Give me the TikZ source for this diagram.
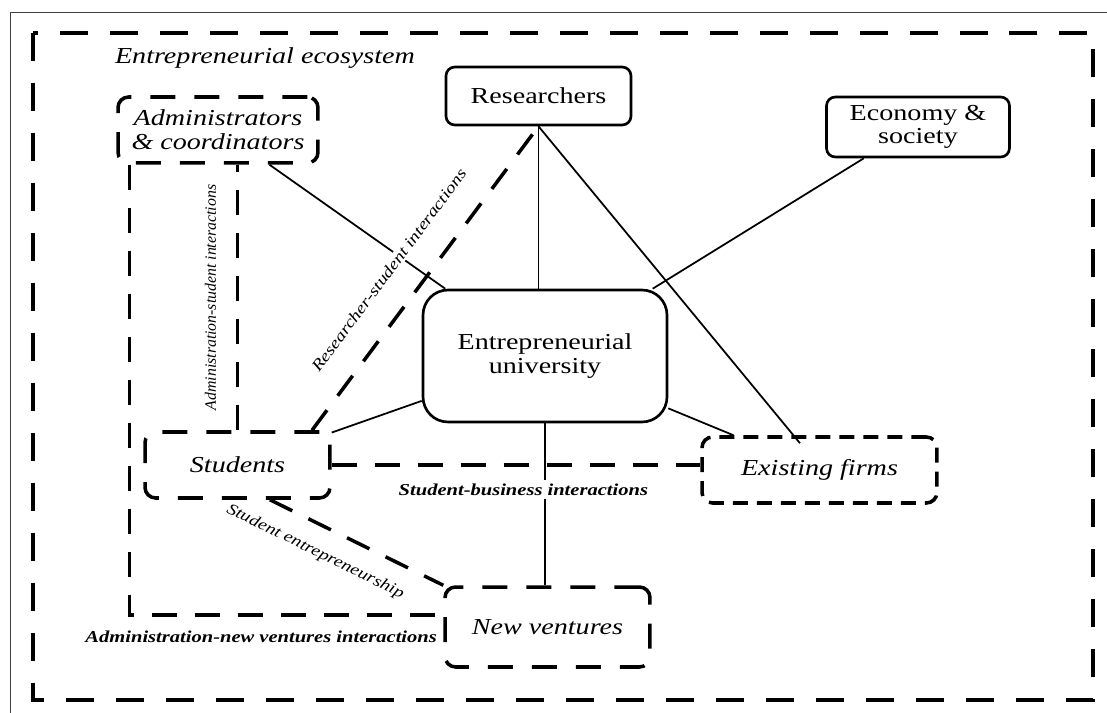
\documentclass[tikz,border=0pt]{standalone}
\usepackage{fontspec}
\setmainfont{Liberation Serif}[FakeStretch=1.23]
\newfontfamily\narrowserif{Liberation Serif}
\usepackage{tikz}

\begin{document}
\begin{tikzpicture}[x=0.02cm,y=-0.02cm,
  font=\fontsize{13}{13.5}\selectfont,
  bx/.style={draw,line width=1.5pt,rounded corners=5pt,align=center,inner sep=0pt},
  dbx/.style={draw,line width=2pt,dash pattern=on 0.5cm off 0.38cm,rounded corners=6pt,align=center,inner sep=0pt,font=\fontsize{13}{13.5}\selectfont\itshape},
  ln/.style={line width=1pt},
  dln/.style={line width=2pt,dash pattern=on 0.5cm off 0.36cm},
  lbl/.style={font=\fontsize{9.5}{10}\selectfont\bfseries\itshape,fill=white,inner sep=2pt},
  slbl/.style={font=\fontsize{9}{10}\selectfont\itshape,sloped,fill=white,inner sep=1pt}]
\useasboundingbox (0,0) rectangle (1107,713);
\draw[black!75,line width=0.8pt] (10.5,713) -- (10.5,12.5) -- (1107,12.5);
\draw[line width=2pt,dash pattern=on 0.56cm off 0.44cm] (33,33) rectangle (1093,700);
\node[font=\fontsize{13}{13.5}\selectfont\itshape] (eco) at (265,58) {Entrepreneurial ecosystem};
\node[dbx,minimum width=4cm,minimum height=1.32cm] (adm) at (218,130) {Administrators\\\& coordinators};
\node[bx,minimum width=3.7cm,minimum height=1.16cm] (res) at (538.5,96) {Researchers};
\node[bx,minimum width=3.66cm,minimum height=1.2cm] (soc) at (918,127) {Economy \&\\society};
\node[bx,rounded corners=0.5cm,minimum width=4.88cm,minimum height=2.64cm] (uni) at (545,356) {Entrepreneurial\\university};
\node[dbx,minimum width=3.7cm,minimum height=1.32cm] (stu) at (237.5,465) {Students};
\node[dbx,dash pattern=on 0.3cm off 0.18cm,minimum width=4.7cm,minimum height=1.32cm] (firm) at (819.5,470) {Existing firms};
\node[dbx,minimum width=4.1cm,minimum height=1.6cm] (nv) at (547.5,627) {New ventures};
\draw[ln] (adm.-34) -- (uni.146);
\draw[ln] (res.south) -- (res.south |- uni.north);
\draw[ln] (res.south) -- ([xshift=-0.39cm,yshift=-0.16cm]firm.north);
\draw[ln] (soc.210) -- (uni.32);
\draw[ln] (uni.200) -- (stu.19);
\draw[ln] (uni.-23) -- (firm.158);
\draw[ln] (uni.south) -- (uni.south |- nv.north);
\draw[dln] (stu.25) -- (res.south) node[slbl,pos=0.46,above=0.5cm] {Researcher-student interactions};
\draw[dln] (stu.north) -- (stu.north |- adm.south) node[slbl,midway,above=0.36cm,font=\narrowserif\fontsize{9}{10}\selectfont\itshape] {Administration-student interactions};
\draw[dln] (stu.east) -- (stu.east -| firm.west) node[lbl,pos=0.52,below=0.27cm] {Student-business interactions};
\draw[dln] (stu.-47) -- (nv.north west) node[slbl,pos=0.33,below=0.32cm] {Student entrepreneurship};
\draw[dln] ([xshift=0.26cm]adm.south west) |- ([yshift=0.24cm]nv.west) node[lbl,pos=0.71,below=0.21cm] {Administration-new ventures interactions};
\end{tikzpicture}
\end{document}
